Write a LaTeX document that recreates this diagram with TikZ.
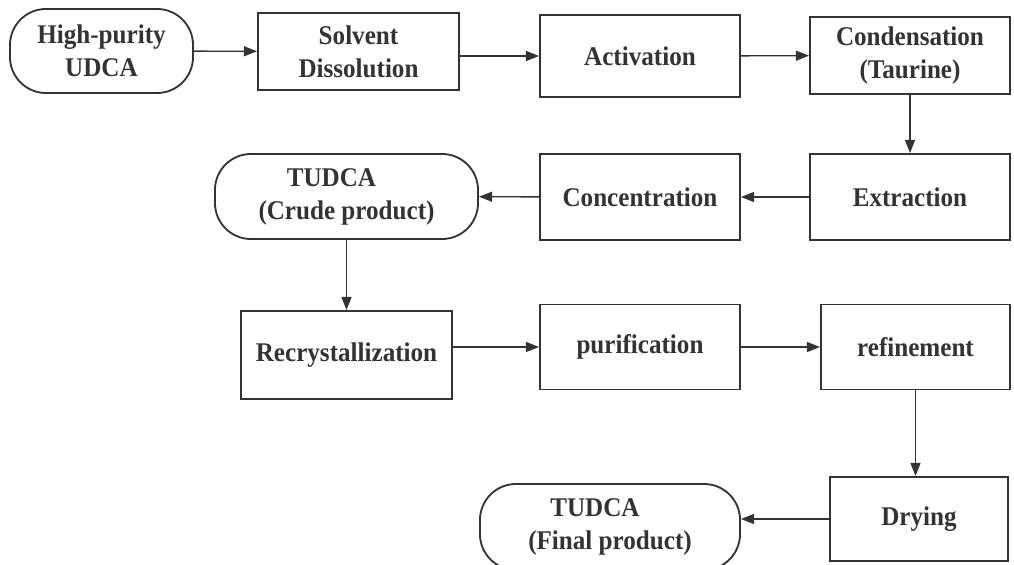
\documentclass[tikz,border=0pt]{standalone}
\usepackage{fontspec}
\setmainfont[FakeStretch=0.93]{Liberation Serif}
\usepackage{tikz}
\usetikzlibrary{
    arrows.meta,
    positioning
}
\definecolor{inkgray}{HTML}{333333}

\begin{document}
\begin{tikzpicture}[x=0.025cm, y=-0.025cm,
                    every node/.style={text=inkgray, font=\fontsize{19.2}{23.5}\selectfont\bfseries, align=center},
                    proc/.style={draw=inkgray, line width=1.3pt, rectangle, inner sep=0pt},
                    term/.style={draw=inkgray, line width=1.3pt, rectangle, rounded corners=0.9cm, inner sep=0pt},
                    flow/.style={draw=inkgray, line width=1pt, -{Triangle[length=0.33cm, width=0.25cm]}}]
                        \useasboundingbox (0, 0) rectangle (1014, 565);

                        \node[term, minimum width=4.575cm, minimum height=2.1cm] (udca) at (101.5, 51) {High-purity\\UDCA};
                        \node[proc, minimum width=5.025cm, minimum height=1.925cm] (solv) at (358.5, 51.5) {Solvent\\Dissolution};
                        \node[proc, minimum width=5cm, minimum height=2.05cm] (act) at (640, 56) {Activation};
                        \node[proc, minimum width=5cm, minimum height=1.925cm] (cond) at (910, 55.5) {Condensation\\(Taurine)};

                        \node[proc, minimum width=5cm, minimum height=2.15cm] (extr) at (910, 197) {Extraction};
                        \node[proc, minimum width=5cm, minimum height=2.15cm] (conc) at (640, 197) {Concentration};
                        \node[term, minimum width=6.575cm, minimum height=2.125cm] (crude) at (346.5, 196.5) {TUDCA\kern0.75cm\\(Crude product)};

                        \node[proc, minimum width=5.275cm, minimum height=2.2cm] (recr) at (346.5, 355) {Recrystallization};
                        \node[proc, minimum width=5cm, minimum height=2.125cm] (puri) at (640, 347) {purification};
                        \node[proc, minimum width=4.725cm, minimum height=2.125cm] (refi) at (915.5, 347) {refinement};

                        \node[proc, minimum width=4.45cm, minimum height=2.1cm] (dry) at (919, 519) {Drying};
                        \node[term, minimum width=6.5cm, minimum height=2.15cm] (final) at (610, 527) {TUDCA\kern0.75cm\\(Final product)};

                        \draw[flow] (udca) -- (solv);
                        \draw[flow] (solv.east |- act) -- (act.west);
                        \draw[flow] (act) -- (cond);
                        \draw[flow] (cond) -- (extr);
                        \draw[flow] (extr) -- (conc);
                        \draw[flow] (conc) -- (crude);
                        \draw[flow] (crude) -- (recr);
                        \draw[flow] (recr.east |- puri) -- (puri.west);
                        \draw[flow] (puri) -- (refi);
                        \draw[flow] (refi.south) -- (refi.south |- dry.north);
                        \draw[flow] (dry.west) -- (dry.west -| final.east);
                    \end{tikzpicture}
\end{document}
